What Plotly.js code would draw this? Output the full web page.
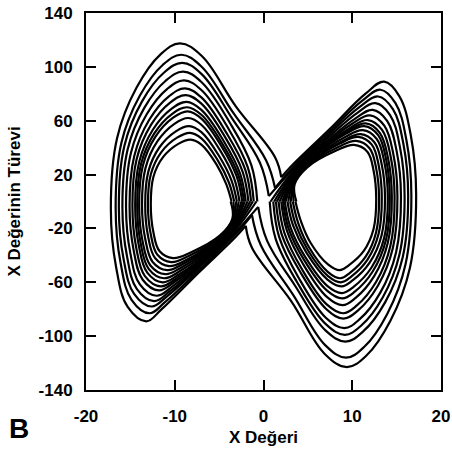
<!DOCTYPE html>
<html><head><meta charset="utf-8">
<script src="https://cdn.plot.ly/plotly-3.0.1.min.js"></script>
<style>body{margin:0;background:#fff}#chart{width:452px;height:454px}</style>
</head><body><div id="chart"></div>
<script>
// Left lobe loops (clockwise), inner -> outer
var leftLoopX = [
[-3.7,-3.5,-4.9,-8.2,-10.2,-11.7,-12.4,-12.7,-12.4,-11.3,-9.6,-8.2,-7.0,-5.3,-4.2,-3.6],
[-3.4,-3.48,-5.08,-8.43,-10.41,-11.95,-12.69,-13.02,-12.69,-11.51,-9.74,-8.28,-7.0,-5.15,-3.91,-3.3],
[-3.1,-3.46,-5.25,-8.66,-10.62,-12.2,-12.99,-13.33,-12.97,-11.72,-9.88,-8.37,-7.0,-4.99,-3.61,-3.0],
[-2.8,-3.43,-5.45,-8.93,-10.86,-12.49,-13.32,-13.69,-13.3,-11.96,-10.04,-8.46,-7.0,-4.82,-3.32,-2.7],
[-2.5,-3.41,-5.63,-9.16,-11.07,-12.74,-13.62,-14.01,-13.59,-12.17,-10.18,-8.55,-7.0,-4.66,-3.03,-2.4],
[-2.3,-3.4,-5.75,-9.32,-11.22,-12.92,-13.83,-14.23,-13.79,-12.32,-10.28,-8.61,-7.0,-4.55,-2.83,-2.2],
[-2.1,-3.38,-5.88,-9.49,-11.37,-13.1,-14.04,-14.46,-14.0,-12.47,-10.38,-8.67,-7.0,-4.44,-2.64,-2.0],
[-1.8,-3.36,-6.05,-9.72,-11.58,-13.36,-14.33,-14.77,-14.29,-12.68,-10.52,-8.75,-7.0,-4.29,-2.35,-1.7],
[-1.5,-3.34,-6.23,-9.95,-11.79,-13.61,-14.63,-15.09,-14.57,-12.89,-10.66,-8.84,-7.0,-4.13,-2.05,-1.4],
[-1.2,-3.31,-6.45,-10.25,-12.06,-13.93,-15.0,-15.49,-14.94,-13.16,-10.84,-8.94,-7.0,-3.94,-1.76,-1.1],
[-0.8,-3.29,-6.68,-10.54,-12.33,-14.26,-15.38,-15.9,-15.31,-13.43,-11.02,-9.05,-7.0,-3.74,-1.37,-0.7],
[-0.6,-3.26,-6.9,-10.84,-12.6,-14.58,-15.76,-16.3,-15.68,-13.7,-11.2,-9.16,-7.0,-3.54,-0.4,0.6],
[-1.3,-3.24,-7.1,-11.1,-12.84,-14.87,-16.1,-16.66,-16.01,-13.94,-11.36,-9.26,-7.0,-3.36,0.3,1.3],
[-2.0,-3.2,-7.4,-11.5,-13.2,-15.3,-16.6,-17.2,-16.5,-14.3,-11.6,-9.4,-6.95,-3.1,1.3,2.0]
];
var leftLoopY = [
[0,-12.6,-25.2,-37.8,-42,-37,-23.1,-2,18.4,33.1,42.8,46,42.3,27.6,12.9,0],
[0,-13.5,-27,-40.5,-45,-39.6,-24.8,-2.2,20.4,36.7,47.4,51,46.9,30.6,14.3,0],
[0,-14.4,-28.8,-43.2,-48,-42.2,-26.4,-2.4,22.4,40.3,52.1,56,51.5,33.6,15.7,0],
[0,-15.3,-30.6,-45.9,-51,-44.9,-28,-2.7,24.8,44.6,57.7,62,57,37.2,17.4,0],
[0,-16.2,-32.4,-48.6,-54,-47.5,-29.7,-2.9,26.8,48.2,62.3,67,61.6,40.2,18.8,0],
[0,-17.1,-34.2,-51.3,-57,-50.2,-31.4,-3,28,50.4,65.1,70,64.4,42,19.6,0],
[0,-18,-36,-54,-60,-52.8,-33,-3.2,29.6,53.3,68.8,74,68.1,44.4,20.7,0],
[0,-18.9,-37.8,-56.7,-63,-55.4,-34.7,-3.4,31.6,56.9,73.5,79,72.7,47.4,22.1,0],
[0,-19.8,-39.6,-59.4,-66,-58.1,-36.3,-3.6,33.6,60.5,78.1,84,77.3,50.4,23.5,0],
[0,-21,-42,-63,-70,-61.6,-38.5,-3.9,36,64.8,83.7,90,82.8,54,25.2,0],
[0,-22.2,-44.4,-66.6,-74,-65.1,-40.7,-4.1,38.6,69.5,89.7,96.5,88.8,57.9,27,0],
[-4,-23.4,-46.8,-70.2,-78,-68.6,-42.9,-4.4,41.2,74.2,95.8,103,94.8,61.8,28.8,4],
[-10,-24.9,-49.8,-74.7,-83,-73,-45.7,-4.6,43.6,78.5,101.4,109,100.3,65.4,30.5,10],
[-18,-26.7,-53.4,-80.1,-89,-78.3,-49,-5,47,84.6,109.3,117.5,108.1,70.5,32.9,18]
];
// Right lobe loops (clockwise), inner -> outer
var rightLoopX = [
[3.7,3.5,4.9,8.2,10.2,11.7,12.4,12.7,12.4,11.3,9.6,8.6,7.3,5.3,4.2,3.6],
[3.4,3.48,5.08,8.43,10.44,11.95,12.69,13.02,12.69,11.51,9.74,8.66,7.27,5.15,3.91,3.3],
[3.1,3.46,5.25,8.66,10.68,12.2,12.99,13.33,12.97,11.72,9.88,8.71,7.24,4.99,3.61,3.0],
[2.8,3.43,5.45,8.93,10.95,12.49,13.32,13.69,13.3,11.96,10.04,8.78,7.21,4.82,3.32,2.7],
[2.5,3.41,5.63,9.16,11.19,12.74,13.62,14.01,13.59,12.17,10.18,8.83,7.18,4.66,3.03,2.4],
[2.3,3.4,5.75,9.32,11.36,12.92,13.83,14.23,13.79,12.32,10.28,8.87,7.16,4.55,2.83,2.2],
[2.1,3.38,5.88,9.49,11.53,13.1,14.04,14.46,14.0,12.47,10.38,8.91,7.14,4.44,2.64,2.0],
[1.8,3.36,6.05,9.72,11.76,13.36,14.33,14.77,14.29,12.68,10.52,8.97,7.12,4.29,2.35,1.7],
[1.5,3.34,6.23,9.95,12.0,13.61,14.63,15.09,14.57,12.89,10.66,9.02,7.09,4.13,2.05,1.4],
[1.2,3.31,6.45,10.25,12.31,13.93,15.0,15.49,14.94,13.16,10.84,9.1,7.05,3.94,1.76,1.1],
[0.8,3.29,6.68,10.54,12.61,14.26,15.38,15.9,15.31,13.43,11.02,9.17,7.02,3.74,1.37,0.7],
[0.6,3.26,6.9,10.84,12.92,14.58,15.76,16.3,15.68,13.7,11.2,9.24,6.98,3.54,0.4,-0.6],
[1.3,3.24,7.1,11.1,13.19,14.87,16.1,16.66,16.01,13.94,11.36,9.3,6.95,3.36,-0.3,-1.3],
[2.0,3.2,7.4,11.5,13.6,15.3,16.6,17.2,16.5,14.3,11.6,9.4,6.9,3.1,-1.3,-2.0]
];
var rightLoopY = [
[0,12.6,25.2,37.8,42,37,23.1,2,-20.4,-36.7,-47.4,-51,-46.9,-30.6,-14.3,0],
[0,13.5,27,40.5,45,39.6,24.8,2.2,-22.8,-41,-53,-57,-52.4,-34.2,-16,0],
[0,14.4,28.8,43.2,48,42.2,26.4,2.4,-24,-43.2,-55.8,-60,-55.2,-36,-16.8,0],
[0,15,30,45,50,44,27.5,2.7,-25.2,-45.4,-58.6,-63,-58,-37.8,-17.6,0],
[0,15.9,31.8,47.7,53,46.6,29.2,2.9,-27.2,-49,-63.2,-68,-62.6,-40.8,-19,0],
[0,16.8,33.6,50.4,56,49.3,30.8,3,-28.8,-51.8,-67,-72,-66.2,-43.2,-20.2,0],
[0,17.4,34.8,52.2,58,51,31.9,3.2,-30.8,-55.4,-71.6,-77,-70.8,-46.2,-21.6,0],
[0,18.2,36.3,54.5,60.5,53.2,33.3,3.4,-33.2,-59.8,-77.2,-83,-76.4,-49.8,-23.2,0],
[0,19.2,38.4,57.6,64,56.3,35.2,3.6,-34.8,-62.6,-80.9,-87,-80,-52.2,-24.4,0],
[0,20.4,40.8,61.2,68,59.8,37.4,3.9,-37.6,-67.7,-87.4,-94,-86.5,-56.4,-26.3,0],
[0,21.9,43.8,65.7,73,64.2,40.2,4.1,-39.6,-71.3,-92.1,-99,-91.1,-59.4,-27.7,0],
[4,23.4,46.8,70.2,78,68.6,42.9,4.4,-41.6,-74.9,-96.7,-104,-95.7,-62.4,-29.1,-4],
[10,24.9,49.8,74.7,83,73,45.7,4.6,-46.4,-83.5,-107.9,-116,-106.7,-69.6,-32.5,-10],
[18,26.7,53.4,80.1,89,78.3,49,5,-49.2,-88.6,-114.4,-123,-113.2,-73.8,-34.4,-18]
];
var xTickVals = [-20,-10,0,10,20];
var xTickText = ['-20','-10','0','10','20'];
var yTickVals = [-140,-100,-60,-20,20,60,100,140];
var yTickText = ['-140','-100','-60','-20','20','60','100','140'];

var traces = [];
function addLoops(xs, ys){
  for (var i=0;i<xs.length;i++){
    traces.push({x:xs[i], y:ys[i], type:'scatter', mode:'lines',
      line:{color:'#000', width:2.2, shape:'spline', smoothing:1.1},
      hoverinfo:'skip', showlegend:false});
  }
}
addLoops(leftLoopX, leftLoopY);
addLoops(rightLoopX, rightLoopY);

function bold(a){ return a.map(function(s){ return '<b>'+s+'</b>'; }); }
var fam = 'Liberation Sans, Arial, sans-serif';
var tickFont = {family:fam, size:17, color:'#000'};
var layout = {
  width:452, height:454,
  margin:{l:86, r:11, t:13, b:64},
  paper_bgcolor:'#fff', plot_bgcolor:'#fff',
  showlegend:false,
  xaxis:{range:[-20,20], tickvals:xTickVals, ticktext:bold(xTickText), ticks:'inside', ticklen:10, tickwidth:2,
    tickcolor:'#000', showline:true, linecolor:'#000', linewidth:2, mirror:'allticks',
    showgrid:false, zeroline:false, tickfont:tickFont, ticklabelstandoff:10,
    title:{text:'<b>X Değeri</b>', font:{family:fam, size:17, color:'#000'}, standoff:6}},
  yaxis:{range:[-140,140], tickvals:yTickVals, ticktext:bold(yTickText), ticks:'inside', ticklen:10, tickwidth:2,
    tickcolor:'#000', showline:true, linecolor:'#000', linewidth:2, mirror:'allticks',
    showgrid:false, zeroline:false, tickfont:tickFont, ticklabelstandoff:8,
    title:{text:'<b>X Değerinin Türevi</b>', font:{family:fam, size:17, color:'#000'}, standoff:14}},
  annotations:[{text:'<b>B</b>', xref:'paper', yref:'paper', x:-0.19, y:-0.103, xanchor:'center', yanchor:'middle',
    showarrow:false, font:{family:'Liberation Sans Narrow, Liberation Sans, Arial, sans-serif', size:28, color:'#000'}}]
};
Plotly.newPlot('chart', traces, layout, {staticPlot:true, displayModeBar:false});
</script></body></html>
